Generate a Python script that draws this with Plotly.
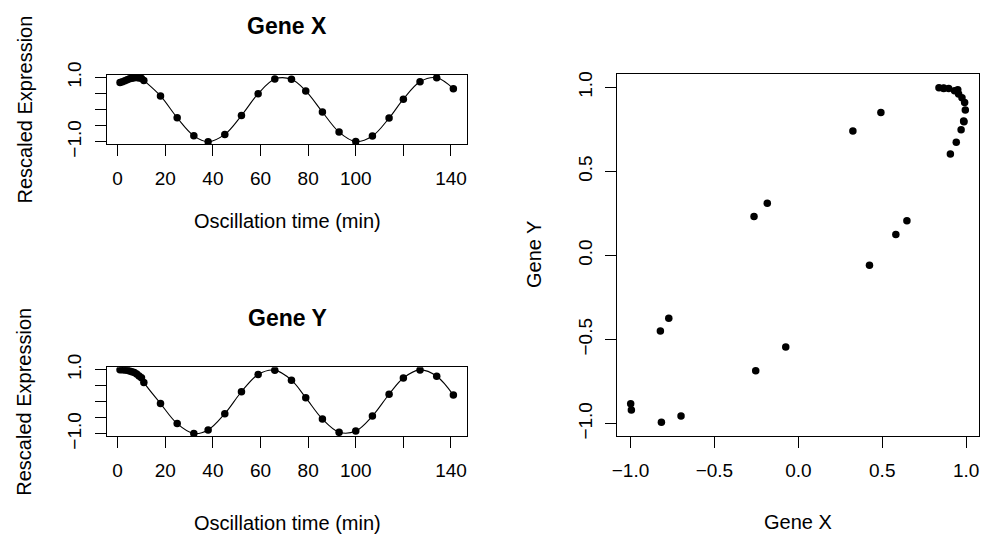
import plotly.graph_objects as go

# Sampling times (min) and rescaled expression of the two oscillating genes
time_min = [1, 2, 3, 4, 5, 6, 7, 8, 9, 10, 11,
            18, 25, 32, 38, 45, 52, 59, 66, 73, 79,
            86, 93, 100, 107, 114, 120, 127, 134, 141]
gene_x = [0.838, 0.866, 0.896, 0.931, 0.955, 0.975, 0.991, 0.995, 0.985, 0.970, 0.906,
          0.424, -0.254, -0.816, -0.999, -0.772, -0.185, 0.492, 0.950, 0.941, 0.581,
          -0.075, -0.699, -0.995, -0.822, -0.264, 0.325, 0.866, 0.987, 0.647]
gene_y = [0.998, 0.996, 0.993, 0.980, 0.960, 0.938, 0.910, 0.865, 0.800, 0.748, 0.603,
          -0.058, -0.685, -0.992, -0.881, -0.373, 0.311, 0.851, 0.985, 0.673, 0.125,
          -0.544, -0.955, -0.919, -0.449, 0.232, 0.740, 0.993, 0.795, 0.206]

time_ticks = [0, 20, 40, 60, 80, 100, 120, 140]
time_tick_text = ["0", "20", "40", "60", "80", "100", "", "140"]
expr_ticks = [-1.0, -0.5, 0.0, 0.5, 1.0]
expr_tick_text = ["\u22121.0", "", "", "", "1.0"]
phase_tick_text = ["\u22121.0", "\u22120.5", "0.0", "0.5", "1.0"]

W, H = 981, 534
FONT = "Liberation Sans, Arial, Helvetica, sans-serif"


def fx(p):
    return p / W


def fy(p):
    return 1 - p / H


def padded(vals, frac=0.04):
    lo, hi = min(vals), max(vals)
    d = (hi - lo) * frac
    return [lo - d, hi + d]


def axis_style(**kw):
    base = dict(
        showline=True, mirror=True, linecolor="black", linewidth=1,
        ticks="outside", ticklen=11, tickwidth=1, tickcolor="black",
        showgrid=False, zeroline=False, fixedrange=True, automargin=False,
        tickfont=dict(family=FONT, size=19, color="black"),
    )
    base.update(kw)
    return base


fig = go.Figure()

# Time courses: points joined by a smooth curve
fig.add_trace(go.Scatter(
    x=time_min, y=gene_x, mode="lines+markers", xaxis="x", yaxis="y",
    line=dict(color="black", width=1.1, shape="spline", smoothing=1.0),
    marker=dict(color="black", size=7.5), showlegend=False))
fig.add_trace(go.Scatter(
    x=time_min, y=gene_y, mode="lines+markers", xaxis="x2", yaxis="y2",
    line=dict(color="black", width=1.1, shape="spline", smoothing=1.0),
    marker=dict(color="black", size=7.5), showlegend=False))
# Phase plot of gene X against gene Y
fig.add_trace(go.Scatter(
    x=gene_x, y=gene_y, mode="markers", xaxis="x3", yaxis="y3",
    marker=dict(color="black", size=7.5), showlegend=False))

left_dom = [fx(106.7), fx(466.7)]
fig.update_layout(
    template="none",
    width=W, height=H,
    margin=dict(l=0, r=0, t=0, b=0, autoexpand=False),
    paper_bgcolor="white", plot_bgcolor="white",
    font=dict(family=FONT, color="black"),
    xaxis=axis_style(domain=left_dom, range=padded(time_min), anchor="y",
                     tickvals=time_ticks, ticktext=time_tick_text, ticklabelstandoff=6),
    yaxis=axis_style(domain=[fy(144.3), fy(75.0)], range=padded(gene_x), anchor="x",
                     tickvals=expr_ticks, ticktext=expr_tick_text, tickangle=-90,
                     ticklabelstandoff=6),
    xaxis2=axis_style(domain=left_dom, range=padded(time_min), anchor="y2",
                      tickvals=time_ticks, ticktext=time_tick_text, ticklabelstandoff=6),
    yaxis2=axis_style(domain=[fy(436.0), fy(367.2)], range=padded(gene_y), anchor="x2",
                      tickvals=expr_ticks, ticktext=expr_tick_text, tickangle=-90,
                      ticklabelstandoff=6),
    xaxis3=axis_style(domain=[fx(617.3), fx(978.7)], range=padded(gene_x), anchor="y3",
                      tickvals=expr_ticks, ticktext=phase_tick_text, ticklabelstandoff=6),
    yaxis3=axis_style(domain=[fy(435.7), fy(74.3)], range=padded(gene_y), anchor="x3",
                      tickvals=expr_ticks, ticktext=phase_tick_text, tickangle=-90,
                      ticklabelstandoff=6),
)

TITLE_SIZE = 20


def label(text, x, y, angle=0, size=TITLE_SIZE, bold=False):
    fig.add_annotation(
        text=f"<b>{text}</b>" if bold else text,
        x=fx(x), y=fy(y), xref="paper", yref="paper",
        xanchor="center", yanchor="middle", showarrow=False, textangle=angle,
        font=dict(family=FONT, size=size, color="black"))


label("Gene X", 287, 26, size=23, bold=True)
label("Gene Y", 287, 318, size=23, bold=True)
label("Oscillation time (min)", 287, 221)
label("Oscillation time (min)", 287, 523)
label("Rescaled Expression", 24, 109.5, angle=-90)
label("Rescaled Expression", 24, 401.7, angle=-90)
label("Gene X", 798, 522)
label("Gene Y", 534, 255, angle=-90)

fig.write_html("out.html")
